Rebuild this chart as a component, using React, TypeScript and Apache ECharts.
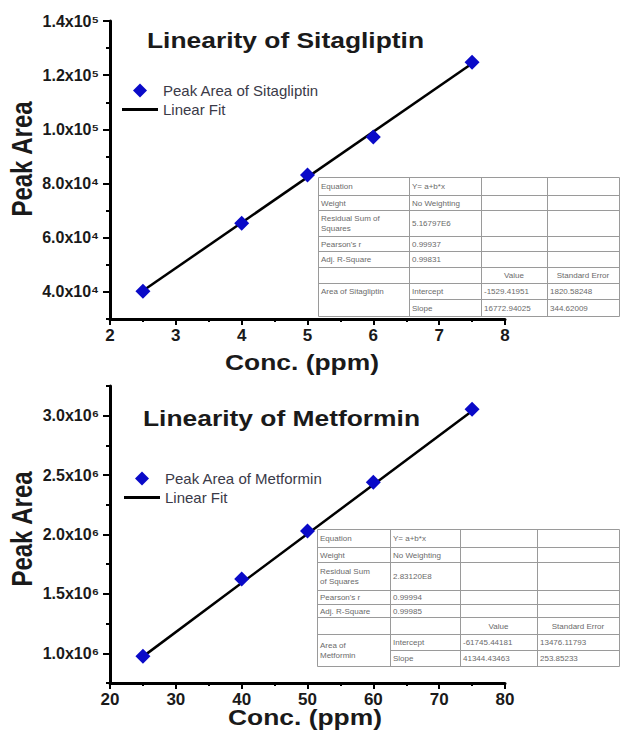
import React, { useEffect, useRef } from 'react';
import * as echarts from 'echarts';

// ---------- data ----------
const sitaConc = [2.5, 4, 5, 6, 7.5];
const sitaArea = [40200, 65300, 83200, 97200, 124800];
const sitaFitConc = [2.5, 7.5];
const sitaFitArea = [40400, 124300];

const metConc = [25, 40, 50, 60, 75];
const metArea = [975000, 1625000, 2030000, 2440000, 3055000];
const metFitConc = [25, 75];
const metFitArea = [972000, 3039000];

const sitaXTicks = [2, 3, 4, 5, 6, 7, 8];
const sitaYTicks = [40000, 60000, 80000, 100000, 120000, 140000];
const sitaYMinor = [30000, 50000, 70000, 90000, 110000, 130000];
const metXTicks = [20, 30, 40, 50, 60, 70, 80];
const metYTicks = [1000000, 1500000, 2000000, 2500000, 3000000];
const metYMinor = [750000, 1250000, 1750000, 2250000, 2750000, 3250000];

const sitaTable = [
  ['Equation', 'Y= a+b*x', '', ''],
  ['Weight', 'No Weighting', '', ''],
  ['Residual Sum of\nSquares', '5.16797E6', '', ''],
  ["Pearson's r", '0.99937', '', ''],
  ['Adj. R-Square', '0.99831', '', ''],
  ['', '', 'Value', 'Standard Error'],
  ['Area of Sitagliptin', 'Intercept', '-1529.41951', '1820.58248'],
  ['', 'Slope', '16772.94025', '344.62009'],
];
const metTable = [
  ['Equation', 'Y= a+b*x', '', ''],
  ['Weight', 'No Weighting', '', ''],
  ['Residual Sum\nof Squares', '2.83120E8', '', ''],
  ["Pearson's r", '0.99994', '', ''],
  ['Adj. R-Square', '0.99985', '', ''],
  ['', '', 'Value', 'Standard Error'],
  ['Area of\nMetformin', 'Intercept', '-61745.44181', '13476.11793'],
  ['', 'Slope', '41344.43463', '253.85233'],
];

// ---------- layout ----------
const FONT = "'Liberation Sans', Arial, Helvetica, sans-serif";
const sitaCols = [318, 409, 481, 547, 619];
const sitaRows = [177, 195, 210, 236, 251, 267, 283, 299, 316];
const metCols = [317, 390, 460, 537, 619];
const metRows = [529, 547, 562, 590, 604, 617, 634, 650, 666];

const DIAMOND_ICON = 'path://M5,0L10,5L5,10L0,5Z';
const LINE_ICON = 'path://M0,0L36,0L36,3L0,3Z';

const SUP: Record<string, string> = { '0': '⁰', '1': '¹', '2': '²', '3': '³', '4': '⁴', '5': '⁵', '6': '⁶', '7': '⁷', '8': '⁸', '9': '⁹' };
function sci(v: number): string {
  const e = Math.floor(Math.log10(v) + 1e-9);
  const m = v / Math.pow(10, e);
  return m.toFixed(1) + 'x10' + String(e).split('').map((d) => SUP[d]).join('');
}

function tableGraphics(cols: number[], rows: number[], cells: string[][], mergeCenter: boolean) {
  const els: any[] = [];
  const x0 = cols[0];
  const x1 = cols[cols.length - 1];
  const y0 = rows[0];
  const y1 = rows[rows.length - 1];
  els.push({
    type: 'rect', z: 100,
    shape: { x: x0 + 0.5, y: y0 + 0.5, width: x1 - x0, height: y1 - y0 },
    style: { fill: '#ffffff', stroke: '#9a9a9a', lineWidth: 1 },
  });
  rows.slice(1, -1).forEach((y, i) => {
    const r = i + 1;
    const sx = r === 7 ? cols[1] : x0;
    els.push({
      type: 'line', z: 101,
      shape: { x1: sx + 0.5, y1: y + 0.5, x2: x1 + 0.5, y2: y + 0.5 },
      style: { stroke: '#9a9a9a', lineWidth: 1 },
    });
  });
  cols.slice(1, -1).forEach((x) => {
    els.push({
      type: 'line', z: 101,
      shape: { x1: x + 0.5, y1: y0 + 0.5, x2: x + 0.5, y2: y1 + 0.5 },
      style: { stroke: '#9a9a9a', lineWidth: 1 },
    });
  });
  cells.forEach((row, r) => {
    row.forEach((t, c) => {
      if (!t) return;
      const header = r === 5;
      let cy = (rows[r] + rows[r + 1]) / 2;
      if (r === 6 && c === 0 && mergeCenter) cy = (rows[6] + rows[8]) / 2;
      els.push({
        type: 'text', z: 102,
        x: header ? (cols[c] + cols[c + 1]) / 2 : cols[c] + 3,
        y: cy + 0.5,
        style: {
          text: t, fontSize: 8, fontFamily: FONT, fill: '#6a6a6a',
          align: header ? 'center' : 'left', verticalAlign: 'middle', lineHeight: 10,
        },
      });
    });
  });
  return els;
}

function xAxisCfg(grid: number, ticks: number[]) {
  return {
    type: 'value', gridIndex: grid,
    min: ticks[0], max: ticks[ticks.length - 1], interval: ticks[1] - ticks[0],
    axisLine: { show: true, onZero: false, lineStyle: { color: '#000', width: 3 } },
    axisTick: { show: true, length: 6, lineStyle: { color: '#000', width: 2 } },
    minorTick: { show: true, splitNumber: 2, length: 3, lineStyle: { color: '#000', width: 2 } },
    splitLine: { show: false },
    axisLabel: { margin: 8, fontSize: 17, fontWeight: 'bold', color: '#1a1a1a', fontFamily: FONT },
  };
}

function yAxisCfg(grid: number, min: number, max: number, step: number, ticks: number[]) {
  return {
    type: 'value', gridIndex: grid, position: 'left',
    min, max, interval: step,
    axisLine: { show: true, onZero: false, lineStyle: { color: '#000', width: 3 } },
    axisTick: { show: true, customValues: ticks, length: 7, lineStyle: { color: '#000', width: 2 } },
    splitLine: { show: false },
    axisLabel: {
      customValues: ticks, margin: 11, fontSize: 16, fontWeight: 'bold', color: '#1a1a1a', fontFamily: FONT,
      formatter: (v: number) => sci(v),
    },
  };
}

function yMinorCfg(grid: number, min: number, max: number, step: number, ticks: number[]) {
  return {
    type: 'value', gridIndex: grid, position: 'left',
    min, max, interval: step,
    axisLine: { show: false, onZero: false },
    axisTick: { show: true, customValues: ticks, length: 4, lineStyle: { color: '#000', width: 2 } },
    splitLine: { show: false },
    axisLabel: { show: false },
  };
}

function titleText(text: string, x: number, y: number) {
  return {
    type: 'text', x, y, scaleX: 1.2, z: 50,
    style: { text, fontSize: 22, fontWeight: 'bold', fontFamily: FONT, fill: '#1a1a1a', align: 'left', verticalAlign: 'middle' },
  };
}
function axisNameX(text: string, x: number, y: number) {
  return {
    type: 'text', x, y, scaleX: 1.2, z: 50,
    style: { text, fontSize: 22, fontWeight: 'bold', fontFamily: FONT, fill: '#1a1a1a', align: 'center', verticalAlign: 'middle' },
  };
}
function axisNameY(text: string, x: number, y: number) {
  return {
    type: 'text', x, y, rotation: Math.PI / 2, scaleY: 1.2, z: 50,
    style: { text, fontSize: 24, fontWeight: 'bold', fontFamily: FONT, fill: '#1a1a1a', align: 'center', verticalAlign: 'middle' },
  };
}

function legendCfg(left: number, top: number, pointName: string) {
  return {
    left, top, orient: 'vertical', itemWidth: 36, itemHeight: 14, itemGap: 4, selectedMode: false,
    symbolKeepAspect: true,
    textStyle: { fontSize: 15, color: '#3a3a48', fontFamily: FONT },
    data: [
      { name: pointName, icon: DIAMOND_ICON, itemStyle: { color: '#0a0ac8', opacity: 1 } },
      { name: 'Linear Fit', icon: LINE_ICON, itemStyle: { color: '#000', opacity: 1 } },
    ],
  };
}

export default function App() {
  const ref = useRef<HTMLDivElement>(null);
  useEffect(() => {
    document.body.style.margin = '0';
    if (!ref.current) return;
    const chart = echarts.init(ref.current, null, { renderer: 'svg' });
    const blue = '#0a0ac8';
    const option: any = {
      animation: false,
      backgroundColor: '#ffffff',
      grid: [
        { left: 110, top: 21, width: 395, height: 298 },
        { left: 110, top: 386, width: 395, height: 297 },
      ],
      xAxis: [xAxisCfg(0, sitaXTicks), xAxisCfg(1, metXTicks)],
      yAxis: [
        yAxisCfg(0, 30000, 140000, 10000, sitaYTicks),
        yMinorCfg(0, 30000, 140000, 10000, sitaYMinor),
        yAxisCfg(1, 750000, 3250000, 250000, metYTicks),
        yMinorCfg(1, 750000, 3250000, 250000, metYMinor),
      ],
      legend: [
        legendCfg(117, 78, 'Peak Area of Sitagliptin'),
        legendCfg(119, 466, 'Peak Area of Metformin'),
      ],
      series: [
        {
          type: 'line', name: 'Linear Fit', xAxisIndex: 0, yAxisIndex: 0, symbol: 'none', z: 2,
          data: sitaFitConc.map((x, i) => [x, sitaFitArea[i]]),
          lineStyle: { color: '#000', width: 2.5 }, itemStyle: { color: '#000' },
        },
        {
          type: 'scatter', name: 'Peak Area of Sitagliptin', xAxisIndex: 0, yAxisIndex: 0, z: 3,
          symbol: 'diamond', symbolSize: 15, itemStyle: { color: blue, opacity: 1 },
          data: sitaConc.map((x, i) => [x, sitaArea[i]]),
        },
        {
          type: 'line', name: 'Linear Fit', xAxisIndex: 1, yAxisIndex: 2, symbol: 'none', z: 2,
          data: metFitConc.map((x, i) => [x, metFitArea[i]]),
          lineStyle: { color: '#000', width: 2.5 }, itemStyle: { color: '#000' },
        },
        {
          type: 'scatter', name: 'Peak Area of Metformin', xAxisIndex: 1, yAxisIndex: 2, z: 3,
          symbol: 'diamond', symbolSize: 15, itemStyle: { color: blue, opacity: 1 },
          data: metConc.map((x, i) => [x, metArea[i]]),
        },
      ],
      graphic: [
        titleText('Linearity of Sitagliptin', 147, 40),
        titleText('Linearity of Metformin', 143, 418),
        axisNameX('Conc. (ppm)', 302, 362),
        axisNameX('Conc. (ppm)', 305, 717),
        axisNameY('Peak Area', 22, 159),
        axisNameY('Peak Area', 22, 529),
        ...tableGraphics(sitaCols, sitaRows, sitaTable, false),
        ...tableGraphics(metCols, metRows, metTable, true),
      ],
    };
    chart.setOption(option);
    return () => chart.dispose();
  }, []);
  return <div ref={ref} style={{ width: 621, height: 730 }} />;
}
